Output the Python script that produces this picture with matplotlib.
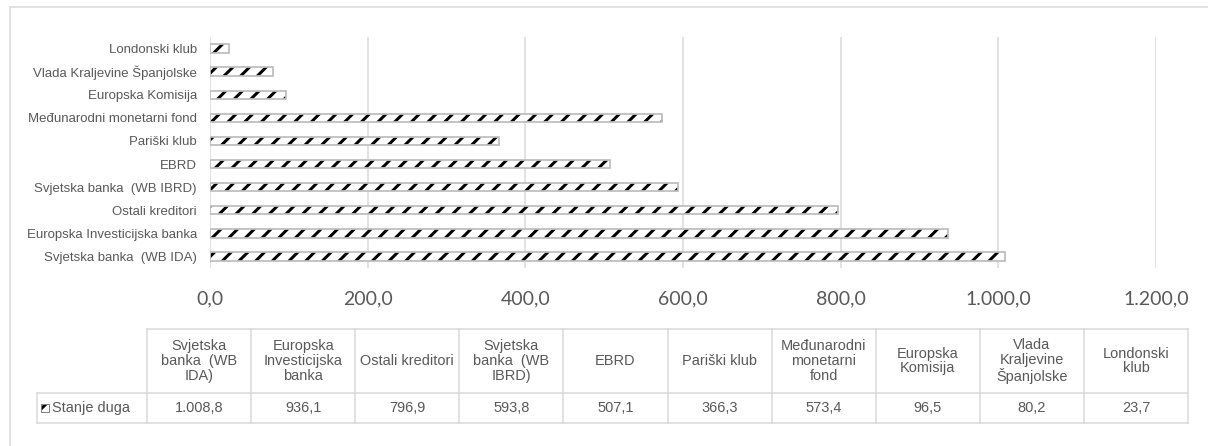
import matplotlib.pyplot as plt
import matplotlib.patches as patches
from matplotlib.ticker import FuncFormatter

# Stanje duga po kreditorima
categories = ['Svjetska banka  (WB IDA)', 'Europska Investicijska banka', 'Ostali kreditori',
              'Svjetska banka  (WB IBRD)', 'EBRD', 'Pariški klub', 'Međunarodni monetarni fond',
              'Europska Komisija', 'Vlada Kraljevine Španjolske', 'Londonski klub']
values = [1008.8, 936.1, 796.9, 593.8, 507.1, 366.3, 573.4, 96.5, 80.2, 23.7]
table_headers = ['Svjetska\nbanka  (WB\nIDA)', 'Europska\nInvesticijska\nbanka', 'Ostali kreditori',
                 'Svjetska\nbanka  (WB\nIBRD)', 'EBRD', 'Pariški klub', 'Međunarodni\nmonetarni\nfond',
                 'Europska\nKomisija', 'Vlada\nKraljevine\nŠpanjolske', 'Londonski\nklub']
series_name = 'Stanje duga'
x_ticks = [0, 200, 400, 600, 800, 1000, 1200]

DPI = 100
W, H = 1208, 446
PT = 72 / DPI  # piksel -> točka

plt.rcParams['hatch.linewidth'] = 3.0 * PT
label_font = ['Liberation Sans', 'DejaVu Sans']
tick_font = ['Lato', 'DejaVu Sans']
txt_col = '#595959'
grid_col = '#d9d9d9'
edge_col = '#bfbfbf'


def hr(v):
    s = f'{v:,.1f}'
    return s.replace(',', ' ').replace('.', ',').replace(' ', '.')


fig = plt.figure(figsize=(W / DPI, H / DPI), dpi=DPI)
fig.patch.set_facecolor('white')

# okvir grafikona
fig.add_artist(patches.Rectangle((10 / W, -0.5), 2, 0.5 + (H - 7) / H, transform=fig.transFigure,
                                 fill=False, edgecolor=grid_col, linewidth=1.5 * PT))

# --- stupci ---
ax = fig.add_axes([210 / W, (H - 268) / H, (1156 - 210) / W, 231 / H])
y = range(len(categories))
ax.barh(y, values, height=0.36, color='white', edgecolor='black', linewidth=0, hatch='//', zorder=2)
ax.barh(y, values, height=0.36, fill=False, edgecolor=edge_col, linewidth=1.8 * PT, zorder=3)
ax.set_xlim(0, 1200)
ax.set_ylim(-0.5, len(categories) - 0.5)
ax.set_xticks(x_ticks)
ax.xaxis.set_major_formatter(FuncFormatter(lambda v, p: hr(v)))
ax.set_yticks(list(y))
ax.set_yticklabels(categories)
ax.grid(axis='x', color=grid_col, linewidth=1.5 * PT, zorder=0)
ax.set_axisbelow(True)
for s in ax.spines.values():
    s.set_visible(False)
ax.tick_params(axis='x', length=0, pad=22 * PT, labelsize=19.5 * PT, labelcolor=txt_col)
ax.tick_params(axis='y', length=0, pad=13 * PT, labelsize=13.2 * PT, labelcolor=txt_col)
for t in ax.get_xticklabels():
    t.set_family(tick_font)
for t in ax.get_yticklabels():
    t.set_family(label_font)

# --- tablica podataka ---
ncol = len(categories)
lab_w = 110 / 104.1
tx = fig.add_axes([37 / W, 23 / H, 1151 / W, 94 / H])
tx.set_xlim(-lab_w, ncol)
tx.set_ylim(0, 94)
tx.axis('off')
lw = 1.5 * PT
tx.plot([0, ncol], [94, 94], color=grid_col, lw=lw, clip_on=False)
tx.plot([-lab_w, ncol], [30, 30], color=grid_col, lw=lw, clip_on=False)
tx.plot([-lab_w, ncol], [0, 0], color=grid_col, lw=lw, clip_on=False)
tx.plot([-lab_w, -lab_w], [0, 30], color=grid_col, lw=lw, clip_on=False)
for i in range(ncol + 1):
    tx.plot([i, i], [0, 94], color=grid_col, lw=lw, clip_on=False)
for i, (h, v) in enumerate(zip(table_headers, values)):
    tx.text(i + 0.5, 62, h, ha='center', va='center', fontsize=14.5 * PT, color=txt_col,
            family=label_font, linespacing=1.05)
    tx.text(i + 0.5, 15, hr(v), ha='center', va='center', fontsize=14.5 * PT, color=txt_col,
            family=label_font)

# legenda u tablici
tx.add_patch(patches.Rectangle((-lab_w + 0.04, 11), 0.075, 8, facecolor='white', edgecolor='black',
                               linewidth=0, hatch='//'))
tx.add_patch(patches.Rectangle((-lab_w + 0.04, 11), 0.075, 8, fill=False, edgecolor='#7f7f7f',
                               linewidth=1 * PT))
tx.text(-lab_w + 0.14, 15, series_name, ha='left', va='center', fontsize=14.5 * PT, color=txt_col,
        family=label_font)

fig.savefig('out.png', dpi=DPI, facecolor='white')
